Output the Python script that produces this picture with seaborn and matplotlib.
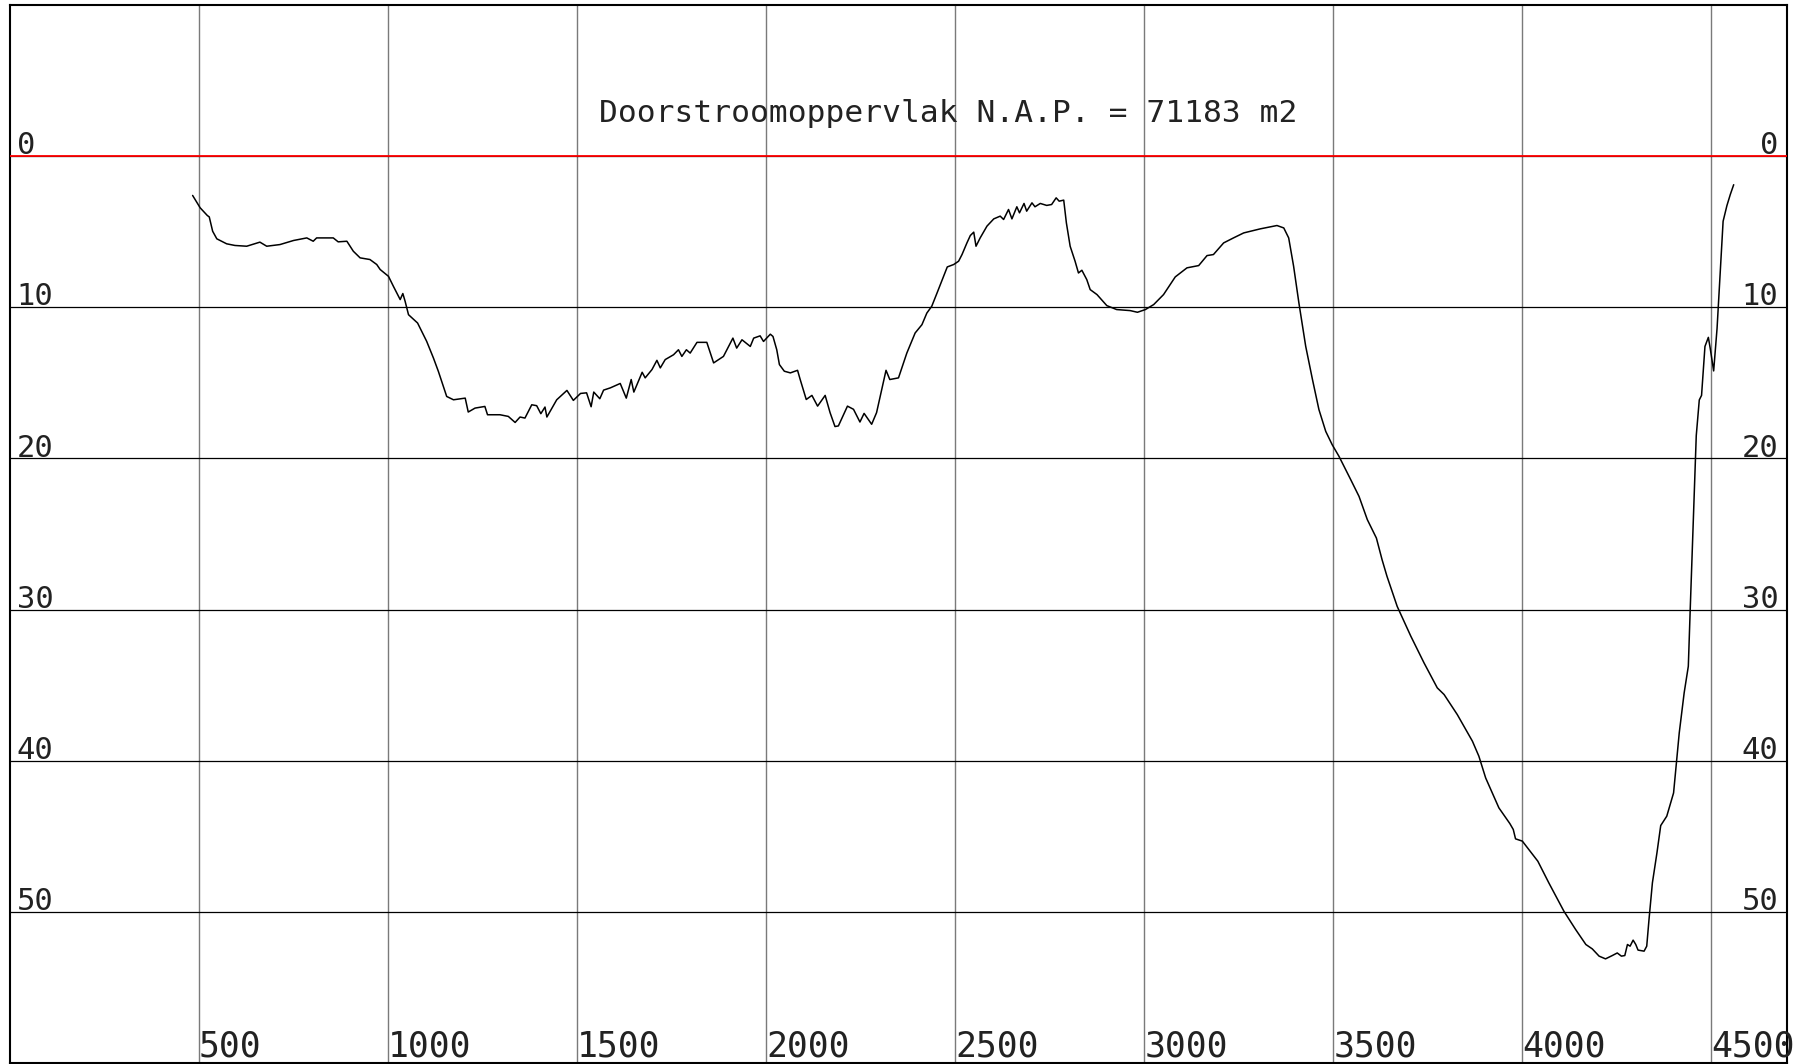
import matplotlib
matplotlib.use("Agg")
import matplotlib.pyplot as plt
import seaborn as sns

# dwarsprofiel: afstand (m) en diepte t.o.v. N.A.P. (m, positief naar beneden)
afstand = [483, 503, 522, 527, 536, 547, 573, 595, 626, 661, 679, 714, 750, 785, 802, 811,
           855, 868, 891, 908, 926, 952, 970, 979, 1001, 1014, 1032, 1039, 1045, 1054, 1078,
           1102, 1120, 1133, 1146, 1155, 1173, 1204, 1212, 1230, 1256, 1263, 1296, 1318, 1336,
           1349, 1362, 1380, 1393, 1404, 1415, 1420, 1446, 1473, 1490, 1509, 1525, 1537, 1544,
           1560, 1570, 1588, 1614, 1630, 1643, 1650, 1672, 1680, 1698, 1711, 1720, 1733, 1755,
           1768, 1777, 1789, 1799, 1817, 1843, 1861, 1887, 1912, 1922, 1936, 1958, 1967, 1984,
           1993, 2011, 2018, 2028, 2035, 2048, 2064, 2083, 2090, 2106, 2121, 2136, 2156, 2169,
           2182, 2191, 2215, 2231, 2248, 2259, 2279, 2292, 2317, 2327, 2350, 2372, 2394, 2412,
           2425, 2438, 2452, 2479, 2496, 2509, 2518, 2531, 2540, 2549, 2555, 2566, 2584, 2602,
           2619, 2628, 2641, 2650, 2663, 2670, 2682, 2689, 2703, 2711, 2725, 2742, 2755, 2767,
           2775, 2787, 2794, 2804, 2817, 2826, 2835, 2848, 2857, 2875, 2901, 2927, 2963, 2982,
           3003, 3025, 3051, 3082, 3113, 3144, 3166, 3183, 3210, 3236, 3263, 3307, 3351, 3369,
           3382, 3395, 3409, 3427, 3445, 3462, 3480, 3497, 3515, 3546, 3568, 3590, 3614, 3629,
           3642, 3669, 3705, 3740, 3775, 3793, 3828, 3868, 3885, 3903, 3938, 3967, 3976, 3982,
           4000, 4041, 4070, 4110, 4141, 4168, 4185, 4203, 4220, 4238, 4251, 4262, 4271, 4278,
           4285, 4293, 4300, 4306, 4322, 4329, 4335, 4344, 4356, 4366, 4382, 4400, 4415, 4428,
           4439, 4444, 4460, 4468, 4474, 4483, 4492, 4497, 4506, 4515, 4531, 4541, 4550, 4559]
diepte = [2.60, 3.42, 3.93, 4.02, 4.97, 5.47, 5.80, 5.91, 5.96, 5.69, 5.96, 5.85, 5.58, 5.41,
          5.63, 5.41, 5.41, 5.67, 5.63, 6.29, 6.73, 6.84, 7.17, 7.50, 7.95, 8.61, 9.49, 9.09,
          9.60, 10.49, 11.04, 12.25, 13.36, 14.24, 15.23, 15.90, 16.12, 16.01, 16.93, 16.67,
          16.56, 17.11, 17.11, 17.22, 17.62, 17.26, 17.33, 16.45, 16.51, 17.04, 16.60, 17.26,
          16.12, 15.50, 16.16, 15.70, 15.66, 16.58, 15.61, 16.05, 15.48, 15.33, 15.04, 16.01,
          14.78, 15.61, 14.30, 14.67, 14.12, 13.51, 14.01, 13.46, 13.14, 12.81, 13.25, 12.81,
          13.03, 12.32, 12.32, 13.68, 13.25, 12.04, 12.70, 12.15, 12.59, 12.04, 11.89, 12.26,
          11.78, 11.93, 12.81, 13.79, 14.23, 14.34, 14.17, 14.78, 16.10, 15.83, 16.54, 15.83,
          16.97, 17.89, 17.85, 16.54, 16.75, 17.59, 17.02, 17.74, 16.97, 14.17, 14.78, 14.67,
          13.03, 11.70, 11.15, 10.38, 9.93, 9.05, 7.33, 7.17, 6.95, 6.51, 5.74, 5.25, 5.03,
          5.96, 5.41, 4.63, 4.15, 3.97, 4.19, 3.53, 4.15, 3.35, 3.75, 3.13, 3.64, 3.09, 3.35,
          3.13, 3.26, 3.20, 2.76, 2.98, 2.91, 4.41, 5.96, 6.95, 7.73, 7.55, 8.17, 8.83, 9.16,
          9.89, 10.15, 10.22, 10.33, 10.15, 9.82, 9.16, 7.99, 7.39, 7.24, 6.58, 6.51, 5.74,
          5.41, 5.08, 4.81, 4.59, 4.75, 5.41, 7.28, 9.71, 12.58, 14.79, 16.77, 18.21, 19.09,
          19.86, 21.40, 22.51, 24.05, 25.27, 26.70, 27.80, 29.79, 31.76, 33.53, 35.18, 35.62,
          36.95, 38.71, 39.70, 41.14, 43.12, 44.16, 44.55, 45.17, 45.32, 46.65, 48.08, 49.96,
          51.17, 52.16, 52.45, 52.93, 53.11, 52.89, 52.72, 52.93, 52.89, 52.16, 52.27, 51.87,
          52.16, 52.53, 52.60, 52.27, 50.51, 48.08, 46.10, 44.29, 43.67, 42.13, 38.16, 35.51,
          33.75, 30.00, 18.49, 16.13, 15.83, 12.59, 11.99, 12.73, 14.21, 11.40, 4.31, 3.28,
          2.54, 1.89]

x_ticks = [500, 1000, 1500, 2000, 2500, 3000, 3500, 4000, 4500]
y_ticks = [0, 10, 20, 30, 40, 50]
titel = "Doorstroomoppervlak N.A.P. = 71183 m2"

sns.set_theme(style="white")
plt.rcParams["font.family"] = ["DejaVu Sans Mono", "DejaVu Sans"]

fig = plt.figure(figsize=(18.02, 10.64), dpi=100)
ax = fig.add_axes([10 / 1802, 1 / 1064, 1777 / 1802, 1058 / 1064])

sns.lineplot(x=afstand, y=diepte, ax=ax, color="black", linewidth=1.1,
             estimator=None, sort=False, zorder=4)

ax.set_xlim(0, 4700)
ax.set_ylim(60, -10)
ax.set_xticks(x_ticks)
ax.set_yticks(y_ticks)
ax.tick_params(length=0, labelbottom=False, labelleft=False)
ax.set_xlabel("")
ax.set_ylabel("")
ax.xaxis.grid(True, color="#7a7a7a", linewidth=1.0)
ax.yaxis.grid(True, color="black", linewidth=0.9)
ax.axhline(0, color="red", linewidth=1.3, zorder=3)
for s in ax.spines.values():
    s.set_color("black")
    s.set_linewidth(1.5)

# labels binnen het kader
for v in y_ticks:
    ax.text(18, v - 0.12, str(v), ha="left", va="baseline", fontsize=22, color="#222222")
    ax.text(4677, v - 0.12, str(v), ha="right", va="baseline", fontsize=22, color="#222222")
for v in x_ticks:
    ax.text(v, 59.6, str(v), ha="left", va="baseline", fontsize=25, color="#222222")

ax.text(1558, -2.27, titel, ha="left", va="baseline", fontsize=22.5, color="#222222")

fig.savefig("out.png", dpi=100)
